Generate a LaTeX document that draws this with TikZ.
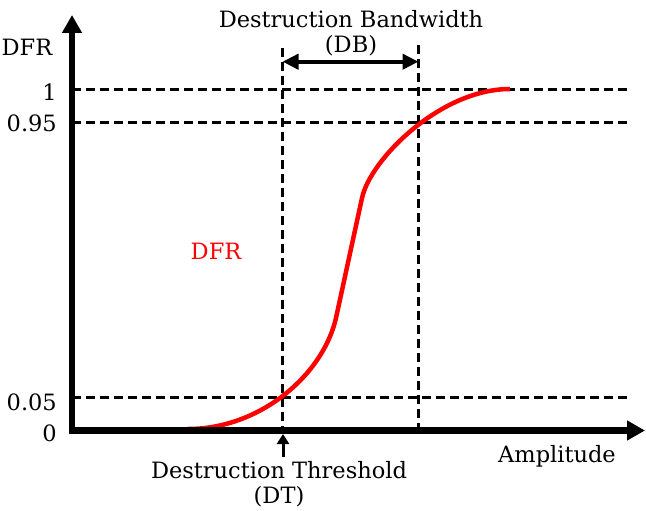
\documentclass[tikz,border=0pt]{standalone}
\usepackage{fontspec}
\setmainfont{DejaVu Serif}
\usetikzlibrary{arrows.meta}

\begin{document}
\begin{tikzpicture}
[x=1pt,y=-1pt,
 txt/.style={inner sep=0pt,font=\fontsize{22.5}{25}\selectfont},
 ticklbl/.style={inner sep=0pt,font=\fontsize{22.5}{25}\selectfont,anchor=east},
 axis/.style={line width=6.5pt,-{Triangle[length=18pt,width=19pt]}},
 guide/.style={line width=3pt,dash pattern=on 9pt off 5pt},
 span/.style={line width=4pt,{Triangle[length=16pt,width=15pt]}-{Triangle[length=16pt,width=15pt]}},
 pointer/.style={line width=3pt,-{Triangle[length=10pt,width=12pt]}},
 dfr/.style={line width=4.5pt,red}]
\useasboundingbox (0,0) rectangle (646,511);
%\begin{scope}[scale=1]
\node[txt]     (dfr-y) at ( 27, 47) {DFR};
\node[ticklbl] (v1)    at ( 57, 92) {1};
\node[ticklbl] (v095)  at ( 57,123.5) {0.95};
\node[ticklbl] (v005)  at ( 57,402) {0.05};
\node[ticklbl] (v0)    at ( 57,433.5) {0};
\node[txt,text=red] (dfr-c) at (216,251) {DFR};
\node[txt,anchor=base] (amp) at (557,462) {Amplitude};
\node[txt,anchor=north,align=center] (DB) at (351,10) {Destruction Bandwidth\\(DB)};
\node[txt,anchor=north,align=center] (DT) at (279,461.5) {Destruction Threshold\\(DT)};
\coordinate (ybot)  at (72,433.75);
\coordinate (ytop)  at (72,15);
\coordinate (xbeg)  at (68.75,430.5);
\coordinate (xend)  at (645,430.5);
\coordinate (dt-top) at (282.5,48);
\coordinate (dt-bot) at (282.5,430.5);
\coordinate (db-top) at (418.5,45);
\coordinate (db-bot) at (418.5,430.5);
\coordinate (db-l)   at (282.5,61.7);
\coordinate (db-r)   at (418.5,61.7);
\coordinate (dt-foot) at (283,457);
\coordinate (dt-tip)  at (283,434);
\foreach \n/\y in {1/89.3,095/122.3,005/397.3}
  {\coordinate (g\n-l) at (72,\y);
   \coordinate (g\n-r) at (627,\y);
   \path (g\n-l) edge[guide] (g\n-r);}
\path (dt-top)  edge[guide]   (dt-bot)
      (db-top)  edge[guide]   (db-bot)
      (db-l)    edge[span]    (db-r)
      (dt-foot) edge[pointer] (dt-tip);
\coordinate (c0) at (188,429);
\coordinate (c1) at (336,318);
\coordinate (c2) at (362,198);
\coordinate (c3) at (510,89);
\draw[dfr] (c0) .. controls (260,429) and (323,375) .. (c1) -- (c2)
                .. controls (370,160) and (440,89) .. (c3);
\draw[axis] (ybot) -- (ytop);
\draw[axis] (xbeg) -- (xend);
%\end{scope}
\end{tikzpicture}
\end{document}
